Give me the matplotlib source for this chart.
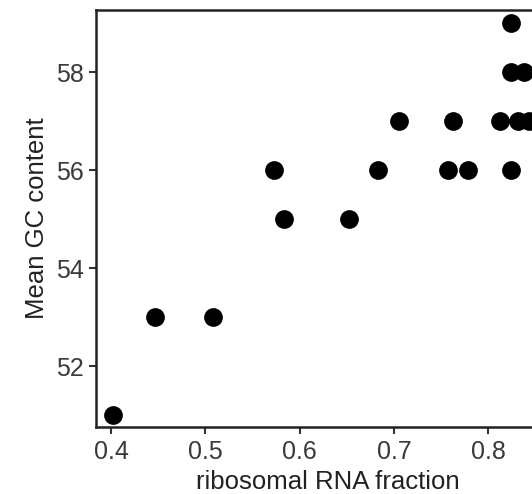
import matplotlib.pyplot as plt

# rRNA fraction vs mean GC content
rrna_fraction = [0.402, 0.447, 0.508, 0.573, 0.583, 0.652, 0.683, 0.705,
                 0.757, 0.763, 0.779, 0.812, 0.824, 0.824, 0.824, 0.838,
                 0.832, 0.843]
gc_content = [51, 53, 53, 56, 55, 55, 56, 57,
              56, 57, 56, 57, 56, 59, 58, 58,
              57, 57]

plt.rcParams['font.family'] = ['Liberation Sans', 'DejaVu Sans']

fig = plt.figure(figsize=(5.32, 4.94), dpi=100)
ax = fig.add_axes([0.1805, 0.1356, 0.872, 0.8441])
ax.plot(rrna_fraction, gc_content, 'o', color='black', markersize=13.5,
        markeredgewidth=0, clip_on=False)

ax.set_xlim(0.384, 0.876)
ax.set_ylim(50.755, 59.265)
ax.set_xticks([0.4, 0.5, 0.6, 0.7, 0.8])
ax.set_yticks([52, 54, 56, 58])

for s in ax.spines.values():
    s.set_linewidth(1.8)
    s.set_color('#222222')
ax.tick_params(direction='out', length=5, width=1.5, color='#333333',
               labelsize=18, labelcolor='#3a3a3a', pad=4)
ax.set_xlabel('ribosomal RNA fraction', fontsize=18.5, color='#222222',
              labelpad=4.5)
ax.set_ylabel('Mean GC content', fontsize=18.5, color='#222222', labelpad=5)

fig.savefig('out.png', dpi=100)
